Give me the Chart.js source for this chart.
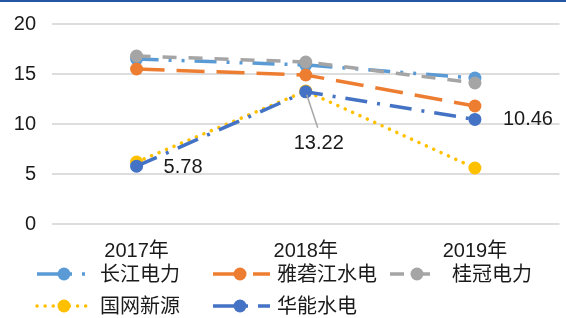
<!DOCTYPE html>
<html>
<head>
<meta charset="utf-8">
<script src="https://cdn.jsdelivr.net/npm/chart.js@4/dist/chart.umd.min.js"></script>
<style>
html,body{margin:0;padding:0;background:#fff;}
#wrap{width:566px;height:318px;position:relative;}
</style>
</head>
<body>
<div id="wrap"><canvas id="c" width="566" height="318"></canvas></div>
<script>
const categories = ['2017年', '2018年', '2019年'];
const seriesNames = ['长江电力', '雅砻江水电', '桂冠电力', '国网新源', '华能水电'];
const changjiang = [16.5, 15.9, 14.6];
const yalongjiang = [15.5, 14.9, 11.8];
const guiguan = [16.8, 16.2, 14.1];
const guowang = [6.2, 13.3, 5.6];
const huaneng = [5.78, 13.22, 10.46];
const yTicks = [0, 5, 10, 15, 20];

const FONT = "'Liberation Sans', 'Noto Sans CJK SC', sans-serif";
const colors = ['#5B9BD5', '#ED7D31', '#A5A5A5', '#FFC000', '#4472C4'];
const dashes = [[22, 10, 3, 10, 3, 10], [28, 12], [14, 12], [0.1, 8], [22, 10, 3, 10]];
const caps = ['butt', 'butt', 'butt', 'round', 'butt'];
const values = [changjiang, yalongjiang, guiguan, guowang, huaneng];

const datasets = values.map((v, i) => ({
  label: seriesNames[i],
  data: v,
  borderColor: colors[i],
  backgroundColor: colors[i],
  pointBackgroundColor: colors[i],
  pointBorderColor: colors[i],
  pointBorderWidth: 0,
  pointRadius: 6.5,
  borderWidth: 3.5,
  borderDash: dashes[i],
  borderCapStyle: caps[i],
  tension: 0,
  fill: false,
  order: 4 - i
}));

const topBar = {
  id: 'topBar',
  beforeDraw(chart) {
    const ctx = chart.ctx;
    ctx.save();
    ctx.fillStyle = '#fff';
    ctx.fillRect(0, 0, chart.width, chart.height);
    ctx.fillStyle = '#2456A4';
    ctx.fillRect(0, 0, chart.width, 2);
    ctx.restore();
  }
};

const dataLabels = {
  id: 'dataLabels',
  afterDatasetsDraw(chart) {
    const ctx = chart.ctx;
    const meta = chart.getDatasetMeta(4);
    const pts = meta.data;
    ctx.save();
    ctx.font = '20px ' + FONT;
    ctx.fillStyle = '#1a1a1a';
    ctx.textBaseline = 'middle';
    ctx.textAlign = 'left';
    ctx.fillText(huaneng[0].toFixed(2), pts[0].x + 27, pts[0].y + 1);
    ctx.strokeStyle = '#A6A6A6';
    ctx.lineWidth = 1.5;
    ctx.beginPath();
    ctx.moveTo(pts[1].x + 1, pts[1].y + 3);
    ctx.lineTo(pts[1].x + 12, pts[1].y + 36);
    ctx.stroke();
    ctx.textAlign = 'center';
    ctx.fillText(huaneng[1].toFixed(2), pts[1].x + 13, pts[1].y + 52);
    ctx.textAlign = 'left';
    ctx.fillText(huaneng[2].toFixed(2), pts[2].x + 28, pts[2].y);
    ctx.restore();
  }
};

const legendItems = [
  {i: 0, x0: 37, x1: 88, mx: 64, tx: 100, y: 274},
  {i: 1, x0: 213, x1: 270, mx: 240, tx: 277, y: 274},
  {i: 2, x0: 390, x1: 433, mx: 417, tx: 452, y: 274},
  {i: 3, x0: 37, x1: 88, mx: 64, tx: 100, y: 306},
  {i: 4, x0: 213, x1: 270, mx: 240, tx: 277, y: 306}
];

const customLegend = {
  id: 'customLegend',
  afterDraw(chart) {
    const ctx = chart.ctx;
    ctx.save();
    legendItems.forEach(it => {
      const c = colors[it.i];
      ctx.strokeStyle = c;
      ctx.lineWidth = 3.5;
      ctx.lineCap = caps[it.i];
      ctx.setLineDash(dashes[it.i]);
      ctx.beginPath();
      ctx.moveTo(it.x0, it.y);
      ctx.lineTo(it.x1, it.y);
      ctx.stroke();
      ctx.setLineDash([]);
      ctx.fillStyle = c;
      ctx.beginPath();
      ctx.arc(it.mx, it.y, 6.5, 0, Math.PI * 2);
      ctx.fill();
      ctx.fillStyle = '#1a1a1a';
      ctx.font = '20px ' + FONT;
      ctx.textAlign = 'left';
      ctx.textBaseline = 'middle';
      ctx.fillText(seriesNames[it.i], it.tx, it.y + 1);
    });
    ctx.restore();
  }
};

new Chart(document.getElementById('c'), {
  type: 'line',
  data: { labels: categories, datasets: datasets },
  options: {
    responsive: false,
    animation: false,
    devicePixelRatio: 1,
    layout: { padding: { top: 10, right: 1, bottom: 40, left: 0 } },
    plugins: {
      legend: { display: false },
      tooltip: { enabled: false }
    },
    scales: {
      x: {
        offset: true,
        grid: { display: false, drawTicks: false },
        border: { display: false },
        ticks: { font: { size: 20, family: FONT }, color: '#1a1a1a', padding: 15, maxRotation: 0 }
      },
      y: {
        min: 0,
        max: 20,
        afterBuildTicks(scale) { scale.ticks = yTicks.map(v => ({ value: v })); },
        afterFit(scale) { scale.width = 52; },
        grid: { color: '#DDDDDD', lineWidth: 2, drawTicks: false },
        border: { display: false },
        ticks: { font: { size: 20, family: FONT, lineHeight: 0.8 }, color: '#1a1a1a', padding: 16 }
      }
    }
  },
  plugins: [topBar, dataLabels, customLegend]
});
</script>
</body>
</html>
